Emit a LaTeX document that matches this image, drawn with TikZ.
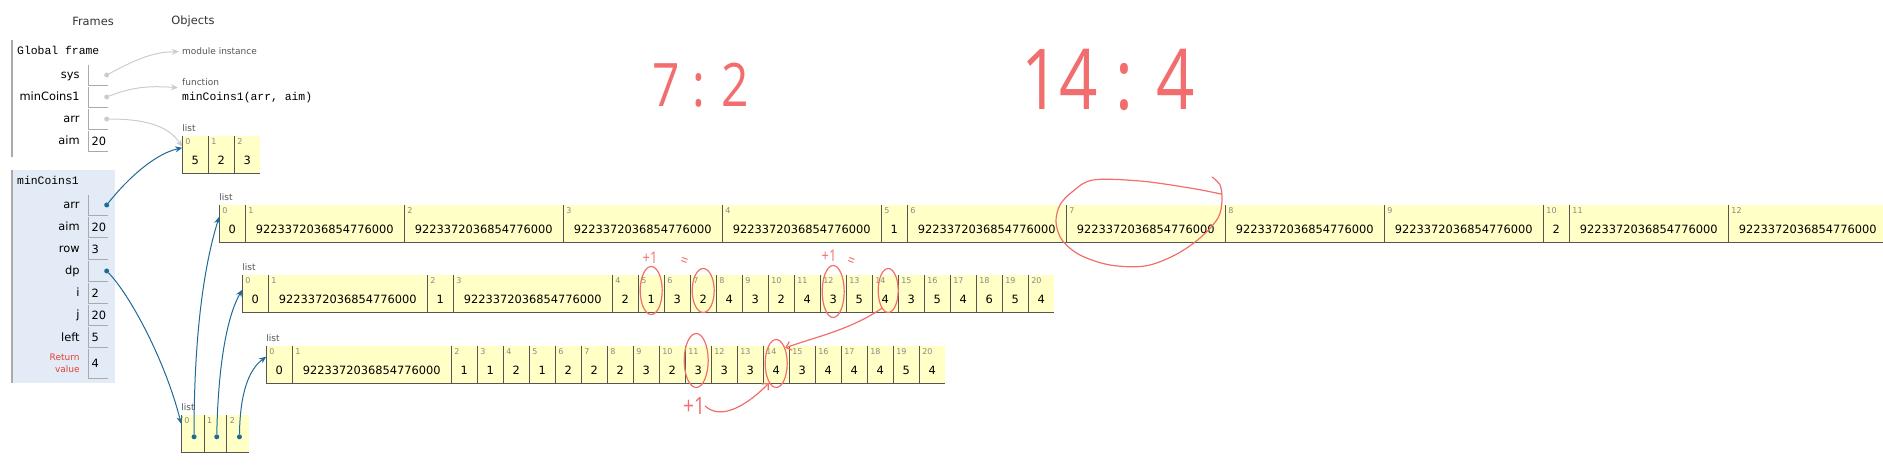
\documentclass[tikz,border=0pt]{standalone}
\usepackage{fontspec}
\setmainfont{DejaVu Sans}
\setmonofont{Liberation Mono}
\newfontfamily\handfont{Open Sans}[FakeStretch=0.8]
\usetikzlibrary{arrows.meta,positioning,shapes.geometric}

\definecolor{listbg}{HTML}{FFFFC6}
\definecolor{cellline}{HTML}{555555}
\definecolor{idxgray}{HTML}{888888}
\definecolor{heapgray}{HTML}{555555}
\definecolor{framebg}{HTML}{E2EBF6}
\definecolor{frameline}{HTML}{AAAAAA}
\definecolor{ptrblue}{HTML}{1F6A96}
\definecolor{ptrgray}{HTML}{CCCCCC}
\definecolor{retred}{HTML}{E93F34}
\definecolor{penred}{HTML}{F26D6D}

\newcommand{\bign}{9223372036854776000}

\begin{document}
\begin{tikzpicture}[
        x=1pt, y=-1pt,
        head/.style={
            font=\fontsize{11.4}{13}\selectfont,
            text=black!80,
        },
        fname/.style={
            font=\ttfamily\fontsize{11.4}{13}\selectfont,
            inner sep=0pt,
            anchor=base west,
        },
        vbox/.style={
            minimum height=20pt,
            text width=14pt,
            inner xsep=2.5pt,
            inner ysep=0pt,
            align=left,
            font=\fontsize{11.4}{13}\selectfont,
        },
        vname/.style={
            font=\fontsize{11.4}{13}\selectfont,
            inner sep=0pt,
            anchor=base east,
        },
        retlbl/.style={
            font=\fontsize{9}{12}\selectfont,
            text=retred,
            align=right,
            inner sep=0pt,
            anchor=east,
        },
        vline/.style={
            draw=frameline,
            line width=0.8pt,
        },
        fborder/.style={
            draw=frameline,
            line width=1.2pt,
        },
        anc/.style={
            inner sep=0pt,
            minimum size=0pt,
        },
        cell/.style={
            fill=listbg,
            inner sep=0pt,
            minimum height=37pt,
            anchor=north west,
        },
        sm/.style={cell, minimum width=25.6pt},
        bg/.style={cell, minimum width=158.6pt},
        pc/.style={cell, minimum width=22.3pt},
        celledge/.style={
            draw=cellline,
            line width=0.8pt,
        },
        idx/.style={
            font=\fontsize{8}{9}\selectfont,
            text=idxgray,
            inner sep=0pt,
            anchor=north west,
        },
        val/.style={
            font=\fontsize{11.4}{13}\selectfont,
            inner sep=0pt,
            anchor=base,
        },
        objlbl/.style={
            font=\fontsize{9}{10}\selectfont,
            text=heapgray,
            inner sep=0pt,
            anchor=base west,
        },
        ptrdot/.style={
            circle,
            inner sep=0pt,
            minimum size=5pt,
        },
        ptr/.style={
            draw=ptrblue,
            line width=1pt,
            -{Stealth[length=7pt, width=6pt]},
        },
        oldptr/.style={ptr, draw=ptrgray},
        pen/.style={
            draw=penred,
            line width=1.2pt,
            line cap=round,
            line join=round,
        },
        penring/.style={
            ellipse,
            draw=penred,
            line width=1.2pt,
            inner sep=0pt,
        },
        hand/.style={
            text=penred,
            inner sep=0pt,
        },
        penarrow/.style={pen, -{Straight Barb[length=5pt, width=9pt]}},
    ]
    \useasboundingbox (0,0) rectangle (1883,465);

    % headers
    \node[head] at (93,21) {Frames};
    \node[head] at (193,21) {Objects};

    % global frame
    \draw[fborder] (12,40) -- (12,157);
    \node[fname] at (17,55) {Global frame};
    \foreach \n/\val [count=\k] in {sys/{}, minCoins1/{}, arr/{}, aim/20} {
        \node[vbox] (g-\n) at (98.5, 53+22*\k) {\val};
        \draw[vline] (g-\n.north west) |- (g-\n.south east);
        \node[vname] at ([xshift=-9pt, yshift=-4pt]g-\n.west) {\n};
    }
    \foreach \n in {sys, minCoins1, arr}
        \node[ptrdot, fill=ptrgray] (g-\n-p) at ([xshift=-1.5pt]g-\n.east) {};

    % minCoins1 frame
    \fill[framebg] (12,170) rectangle (115,383);
    \draw[fborder] (12,170) -- (12,383);
    \node[fname] at (17,185) {minCoins1};
    \foreach \n/\val [count=\k] in {arr/{}, aim/20, row/3, dp/{}, i/2, j/20, left/5} {
        \node[vbox] (f-\n) at (98.5, 183+22*\k) {\val};
        \draw[vline] (f-\n.north west) |- (f-\n.south east);
        \node[vname] at ([xshift=-9pt, yshift=-4pt]f-\n.west) {\n};
    }
    \node[vbox, minimum height=29pt] (f-ret) at (98.5,363.5) {4};
    \draw[vline] (f-ret.north west) |- (f-ret.south east);
    \node[retlbl] at ([xshift=-9pt]f-ret.west) {Return\\value};
    \foreach \n in {arr, dp}
        \node[ptrdot, fill=ptrblue] (f-\n-p) at ([xshift=-1.5pt]f-\n.east) {};

    % heap objects
    \node[objlbl] (modobj) at (182,55) {module instance};
    \node[objlbl] (fnobj) at (182,86) {function};
    \node[fname] (fnsig) at (182,101) {minCoins1(arr, aim)};

    % list arr
    \node[anc] (ar-x) at (182,136) {};
    \foreach \k/\st/\val [remember=\k as \p (initially x)] in {0/sm/5, 1/sm/2, 2/sm/3} {
        \node[\st] (ar-\k) at (ar-\p.north east) {};
        \draw[celledge] (ar-\k.north west) |- (ar-\k.south east);
        \node[idx] at ([xshift=3pt, yshift=-2.5pt]ar-\k.north west) {\k};
        \node[val] at ([yshift=-28.5pt]ar-\k.north) {\val};
    }
    \node[objlbl] at ([yshift=4pt]ar-0.north west) {list};

    % list dp
    \node[anc] (dp-x) at (181,415) {};
    \foreach \k [remember=\k as \p (initially x)] in {0, 1, 2} {
        \node[pc] (dp-\k) at (dp-\p.north east) {};
        \draw[celledge] (dp-\k.north west) |- (dp-\k.south east);
        \node[idx] at ([xshift=3pt, yshift=-2.5pt]dp-\k.north west) {\k};
        \node[ptrdot, fill=ptrblue] (dp-\k-p) at ([xshift=1.5pt, yshift=-22pt]dp-\k.north) {};
    }
    \node[objlbl] at ([yshift=4pt]dp-0.north west) {list};

    % dp[0]
    \node[anc] (ra-x) at (219,205) {};
    \foreach \k/\st/\val [remember=\k as \p (initially x)] in {0/sm/0, 1/bg/\bign, 2/bg/\bign, 3/bg/\bign, 4/bg/\bign, 5/sm/1, 6/bg/\bign, 7/bg/\bign, 8/bg/\bign, 9/bg/\bign, 10/sm/2, 11/bg/\bign, 12/bg/\bign} {
        \node[\st] (ra-\k) at (ra-\p.north east) {};
        \draw[celledge] (ra-\k.north west) |- (ra-\k.south east);
        \node[idx] at ([xshift=3pt, yshift=-2.5pt]ra-\k.north west) {\k};
        \node[val] at ([yshift=-28.5pt]ra-\k.north) {\val};
    }
    \fill[listbg] (ra-12.north east) rectangle ([xshift=6pt]ra-12.south east);
    \draw[celledge] (ra-12.north east) -- (ra-12.south east);
    \node[objlbl] at ([yshift=4pt]ra-0.north west) {list};

    % dp[1]
    \node[anc] (rb-x) at (242,275) {};
    \foreach \k/\st/\val [remember=\k as \p (initially x)] in {0/sm/0, 1/bg/\bign, 2/sm/1, 3/bg/\bign, 4/sm/2, 5/sm/1, 6/sm/3, 7/sm/2, 8/sm/4, 9/sm/3, 10/sm/2, 11/sm/4, 12/sm/3, 13/sm/5, 14/sm/4, 15/sm/3, 16/sm/5, 17/sm/4, 18/sm/6, 19/sm/5, 20/sm/4} {
        \node[\st] (rb-\k) at (rb-\p.north east) {};
        \draw[celledge] (rb-\k.north west) |- (rb-\k.south east);
        \node[idx] at ([xshift=3pt, yshift=-2.5pt]rb-\k.north west) {\k};
        \node[val] at ([yshift=-28.5pt]rb-\k.north) {\val};
    }
    \node[objlbl] at ([yshift=4pt]rb-0.north west) {list};

    % dp[2]
    \node[anc] (rc-x) at (266,346) {};
    \foreach \k/\st/\val [remember=\k as \p (initially x)] in {0/sm/0, 1/bg/\bign, 2/sm/1, 3/sm/1, 4/sm/2, 5/sm/1, 6/sm/2, 7/sm/2, 8/sm/2, 9/sm/3, 10/sm/2, 11/sm/3, 12/sm/3, 13/sm/3, 14/sm/4, 15/sm/3, 16/sm/4, 17/sm/4, 18/sm/4, 19/sm/5, 20/sm/4} {
        \node[\st] (rc-\k) at (rc-\p.north east) {};
        \draw[celledge] (rc-\k.north west) |- (rc-\k.south east);
        \node[idx] at ([xshift=3pt, yshift=-2.5pt]rc-\k.north west) {\k};
        \node[val] at ([yshift=-28.5pt]rc-\k.north) {\val};
    }
    \node[objlbl] at ([yshift=4pt]rc-0.north west) {list};

    % pointers
    \draw[oldptr] (g-sys-p) .. controls (135,60) and (152,52) .. ([xshift=-3pt]modobj.west);
    \draw[oldptr] (g-minCoins1-p) .. controls (135,86) and (152,86) .. ([xshift=-4pt, yshift=-5pt]fnobj.west);
    \draw[oldptr] (g-arr-p) .. controls (150,119) and (170,128) .. ([yshift=-11pt]ar-0.north west);
    \draw[ptr] (f-arr-p) .. controls (120,188) and (150,155) .. ([yshift=-12pt]ar-0.north west);
    \draw[ptr] (f-dp-p) .. controls (130,295) and (165,360) .. ([yshift=-9pt]dp-0.north west);
    \draw[ptr] (dp-0-p) .. controls (194,330) and (205,262) .. ([yshift=-12pt]ra-0.north west);
    \draw[ptr] (dp-1-p) .. controls (218,370) and (226,318) .. ([yshift=-15pt]rb-0.north west);
    \draw[ptr] (dp-2-p) .. controls (240,395) and (248,370) .. ([yshift=-11pt]rc-0.north west);

    % red notes
    \node[hand, font=\handfont\fontsize{60}{60}\selectfont] (n-72) at (701,85) {7 : 2};
    \node[hand, font=\handfont\fontsize{84}{84}\selectfont] (n-144) at (1108,80) {14 : 4};
    \draw[pen] plot[smooth, tension=0.55] coordinates {(1212,177) (1220,185) (1222,200) (1218,218) (1200,238) (1175,255) (1145,266) (1110,265) (1080,255) (1062,240) (1056,222) (1060,205) (1072,192) (1093,180) (1140,181) (1190,188) (1221,194)};
    \node[penring, minimum width=22pt, minimum height=48pt] (m-b5) at ([yshift=3pt]rb-5) {};
    \node[penring, minimum width=22pt, minimum height=44pt] (m-b7) at ([yshift=3pt]rb-7) {};
    \node[penring, minimum width=22pt, minimum height=52pt] (m-b12) at ([yshift=2pt]rb-12) {};
    \node[penring, minimum width=20pt, minimum height=44pt] (m-b14) at ([xshift=3pt, yshift=3pt]rb-14) {};
    \node[penring, minimum width=24pt, minimum height=54pt] (m-c11) at ([xshift=-2pt, yshift=4pt]rc-11) {};
    \node[penring, minimum width=22pt, minimum height=48pt] (m-c14) at ([yshift=1pt]rc-14) {};
    \node[hand, font=\handfont\fontsize{16}{16}\selectfont] (p-b5) at (650,258) {+1};
    \node[hand, font=\handfont\fontsize{16}{16}\selectfont, rotate=-20] (e-b5) at (684,262) {=};
    \node[hand, font=\handfont\fontsize{16}{16}\selectfont] (p-b12) at (829,256) {+1};
    \node[hand, font=\handfont\fontsize{16}{16}\selectfont, rotate=-20] (e-b12) at (851,262) {=};
    \node[hand, font=\handfont\fontsize{24}{24}\selectfont] (p-c11) at (694,406) {+1};
    \draw[penarrow] (m-b14.250) .. controls (850,330) and (815,337) .. (m-c14.60);
    \draw[penarrow] (p-c11.east) .. controls (718,418) and (740,412) .. (m-c14.250);
\end{tikzpicture}
\end{document}
